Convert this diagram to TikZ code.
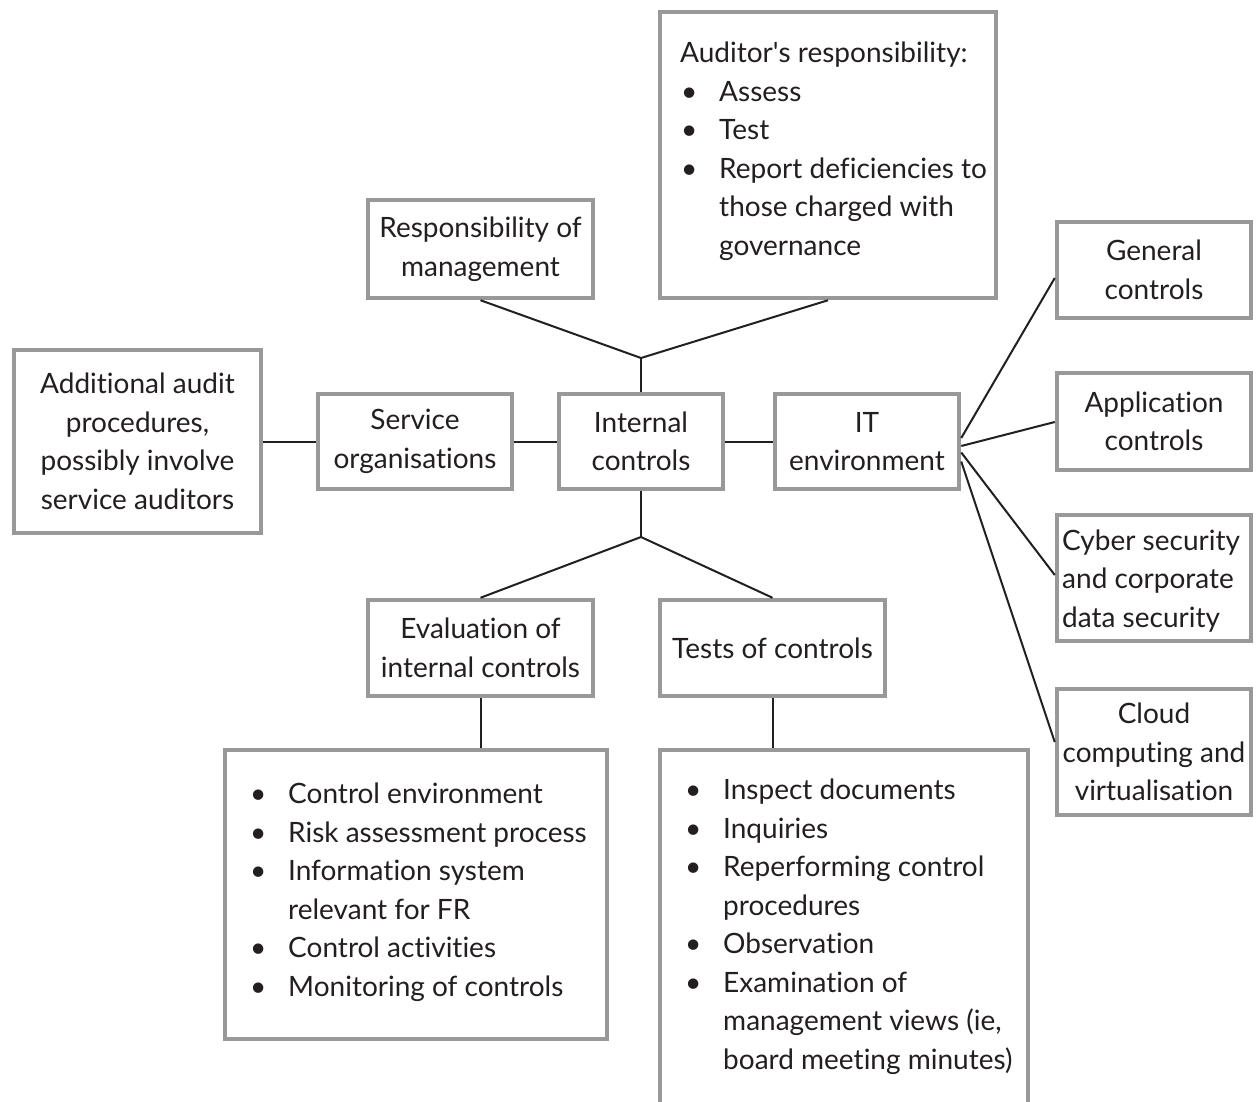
\documentclass[tikz,border=0pt]{standalone}
\usepackage{fontspec}
\setmainfont{Lato}[Ligatures=NoCommon]
\usetikzlibrary{calc}
\definecolor{boxgray}{HTML}{999999}
\definecolor{ink}{HTML}{231F20}
\newcommand{\mybul}{\makebox[39pt][l]{\hspace{1pt}\textbullet}}
\newcommand{\myind}{\hspace*{39pt}}
\begin{document}
\begin{tikzpicture}[x=1pt,y=-1pt,
  box/.style={draw=boxgray, line width=4.5pt, inner sep=0pt, align=center, fill=white, text=ink,
    font=\fontsize{28}{38.5}\selectfont},
  txt/.style={inner sep=0pt, align=left, text=ink, font=\fontsize{28}{38.5}\selectfont},
  conn/.style={draw=ink, line width=2pt}]
\useasboundingbox (0,0) rectangle (1258,1101);
\fill[white] (0,0) rectangle (1258,1101);
% boxes
\node[box, minimum width=336pt, minimum height=286pt] (aud) at (828,155) {};
\node[txt, anchor=west] (audt) at (680,151) {Auditor\textquotesingle s responsibility:\\ \mybul Assess\\ \mybul Test\\ \mybul Report deficiencies to\\ \myind those charged with\\ \myind governance};
\node[box, minimum width=225pt, minimum height=98pt] (resp) at (480.5,249) {Responsibility of\\management};
\node[box, minimum width=194pt, minimum height=96pt] (gen) at (1154,270) {General\\controls};
\node[box, minimum width=194pt, minimum height=97pt] (app) at (1154,421.5) {Application\\controls};
\node[box, minimum width=194pt, minimum height=126pt] (cyb) at (1154,578) {};
\node[txt, anchor=west] (cybt) at (1062,581) {Cyber security\\and corporate\\data security};
\node[box, minimum width=194pt, minimum height=126pt] (cld) at (1154,752) {Cloud\\computing and\\virtualisation};
\node[box, minimum width=247pt, minimum height=183pt] (add) at (137.5,441.5) {Additional audit\\procedures,\\possibly involve\\service auditors};
\node[box, minimum width=194pt, minimum height=95pt] (serv) at (415,441.5) {Service\\organisations};
\node[box, minimum width=164pt, minimum height=95pt] (intc) at (641,441.5) {Internal\\controls};
\node[box, minimum width=184pt, minimum height=95pt] (it) at (867,441.5) {IT\\environment};
\node[box, minimum width=225pt, minimum height=96pt] (eval) at (480.5,648) {Evaluation of\\internal controls};
\node[box, minimum width=225pt, minimum height=96pt] (tests) at (772.5,648) {Tests of controls};
\node[box, minimum width=382pt, minimum height=289pt] (evl) at (416,894.5) {};
\node[txt, anchor=west] (evlt) at (249,892) {\mybul Control environment\\ \mybul Risk assessment process\\ \mybul Information system\\ \myind relevant for FR\\ \mybul Control activities\\ \mybul Monitoring of controls};
\node[box, minimum width=368pt, minimum height=370pt] (tst) at (844,935) {};
\node[txt, anchor=west] (tstt) at (684,926.5) {\mybul Inspect documents\\ \mybul Inquiries\\ \mybul Reperforming control\\ \myind procedures\\ \mybul Observation\\ \mybul Examination of\\ \myind management views (ie,\\ \myind board meeting minutes)};
% connectors
\coordinate (jt) at (641,358);
\coordinate (jb) at (641,537);
\draw[conn] (resp.south) -- (jt) -- (aud.south);
\draw[conn] (jt) -- (intc.north);
\draw[conn] (intc.south) -- (jb);
\draw[conn] (eval.north) -- (jb) -- (tests.north);
\draw[conn] (eval.south) -- (eval.south |- evl.north);
\draw[conn] (tests.south) -- (tests.south |- tst.north);
\draw[conn] (add.east) -- (serv.west);
\draw[conn] (serv.east) -- (intc.west);
\draw[conn] (intc.east) -- (it.west);
\draw[conn] ($(it.east)+(0,-3.5)$) -- ($(gen.west)+(0,8)$);
\draw[conn] ($(it.east)+(0,4.5)$) -- ($(app.west)+(0,0.5)$);
\draw[conn] ($(it.east)+(0,11)$) -- ($(cyb.west)+(0,-3)$);
\draw[conn] ($(it.east)+(0,20)$) -- ($(cld.west)+(0,-10)$);
\end{tikzpicture}
\end{document}
